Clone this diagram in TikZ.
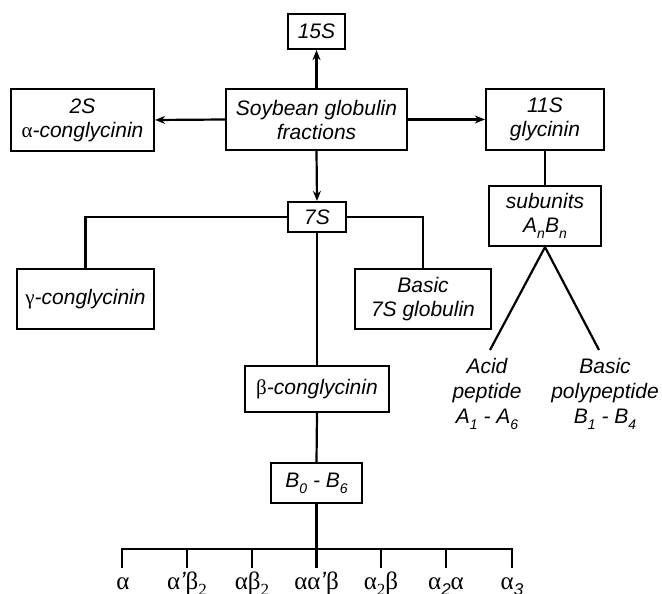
\documentclass[tikz,border=0pt]{standalone}
\usepackage{fontspec}
\setmainfont{Liberation Sans}
\newfontfamily\grkfont{Liberation Serif}
\usetikzlibrary{arrows.meta}
\newcommand{\subsc}[1]{\raisebox{-0.28em}{\fontsize{14}{14}\selectfont #1}}
\newcommand{\gsub}[1]{\raisebox{-0.25em}{\fontsize{17}{17}\selectfont #1}}
\newcommand{\gk}[1]{{\grkfont\upshape #1}}
\begin{document}
\begin{tikzpicture}[x=1pt,y=-1pt,
  box/.style={draw, line width=2.2pt, inner sep=0pt, align=center,
    font=\fontsize{21}{24}\selectfont\itshape},
  txt/.style={inner sep=0pt, align=center, font=\fontsize{21}{25}\selectfont\itshape},
  grk/.style={inner sep=0pt, anchor=base, font=\fontsize{25}{25}\selectfont\grkfont\upshape},
  conn/.style={line width=2.2pt},
  arr/.style={conn, -{Stealth[length=10pt,width=8pt]}},
]
\useasboundingbox (0,0) rectangle (662,594);

% boxes
\node[box, minimum width=57pt, minimum height=35pt] (s15) at (316.5,31.5) {15S};
\node[box, minimum width=143pt, minimum height=62pt] (s2) at (82.5,120) {2S\\\gk{α}-conglycinin};
\node[box, minimum width=181pt, minimum height=61pt] (sgf) at (316.5,119.5) {Soybean globulin\\fractions};
\node[box, minimum width=118pt, minimum height=61pt] (s11) at (545,119.5) {11S\\glycinin};
\node[box, minimum width=112pt, minimum height=60pt] (sub) at (545,216) {subunits\\A\subsc{n}B\subsc{n}};
\node[box, minimum width=58pt, minimum height=30pt] (s7) at (317,217) {7S};
\node[box, minimum width=137pt, minimum height=60pt] (gam) at (85.5,299) {\gk{γ}-conglycinin};
\node[box, minimum width=136pt, minimum height=60pt] (b7s) at (423,299) {Basic\\7S globulin};
\node[box, minimum width=144pt, minimum height=46pt] (bet) at (317,389) {\gk{β}-conglycinin};
\node[box, minimum width=91pt, minimum height=40pt] (b06) at (316.5,483) {B\subsc{0} - B\subsc{6}};

% free texts
\node[txt, anchor=north] (acid) at (487,358) {Acid\\peptide\\A\subsc{1} - A\subsc{6}};
\node[txt, anchor=north] (basic) at (605,358) {Basic\\polypeptide\\B\subsc{1} - B\subsc{4}};

% arrows from the central box
\draw[arr] (sgf.north) -- (s15.south);
\draw[arr] (sgf.west) -- (s2.east);
\draw[arr] (sgf.east) -- (s11.west);
\draw[arr] (sgf.south) -- (s7.north);

% 11S branch
\draw[conn] (s11.south) -- (sub.north);
\coordinate (acidtop) at (490,350);
\coordinate (basictop) at (599,350);
\draw[conn] (acidtop) -- (sub.south) -- (basictop);

% 7S branch
\draw[conn] (s7.west) -| (gam.north);
\draw[conn] (s7.east) -| (b7s.north);
\draw[conn] (s7.south) -- (bet.north);
\draw[conn] (bet.south) -- (b06.north);

% bus
\coordinate (bus) at (316.5,549);
\draw[conn] (b06.south) -- (bus);
\foreach \i/\x in {1/122,2/187,3/252,4/316.5,5/381,6/446,7/512}{
  \coordinate (t\i) at (\x,549);
  \coordinate (e\i) at (\x,568);
}
\draw[conn] (e1) -- (t1) -- (t7) -- (e7);
\foreach \i in {2,...,6}{\draw[conn] (t\i) -- (e\i);}

% labels
\node[grk] (l1) at (123,589) {α};
\node[grk] (l2) at (187,589) {α{\itshape\fontspec{Liberation Sans}’}β\gsub{2}};
\node[grk] (l3) at (252,589) {αβ\gsub{2}};
\node[grk] (l4) at (316.5,589) {αα{\itshape\fontspec{Liberation Sans}’}β};
\node[grk] (l5) at (381,589) {α\gsub{2}β};
\node[grk] (l6) at (446,589) {α\gsub{\itshape\fontspec{Liberation Sans}2}α};
\node[grk] (l7) at (512,589) {α\gsub{\itshape\fontspec{Liberation Sans}3}};
\end{tikzpicture}
\end{document}
